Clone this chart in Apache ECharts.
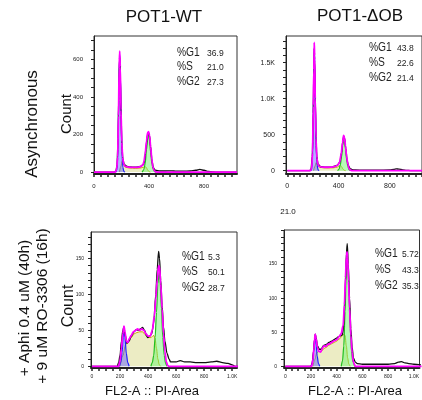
<!DOCTYPE html>
<html>
<head>
<meta charset="utf-8">
<script src="https://cdn.jsdelivr.net/npm/echarts@6/dist/echarts.min.js"></script>
<style>html,body{margin:0;padding:0;background:#fff;}#c{width:422px;height:400px;}</style>
</head>
<body>
<div id="c"></div>
<script>
// ---- titles / labels ----
const colTitles = ['POT1-WT', 'POT1-\u0394OB'];
const rowLabel1 = 'Asynchronous';
const rowLabel2a = '+ Aphi 0.4 uM (40h)';
const rowLabel2b = '+ 9 uM RO-3306 (16h)';
const statNames = ['%G1', '%S', '%G2'];
const statsWtAsync = ['36.9', '21.0', '27.3'];
const statsObAsync = ['43.8', '22.6', '21.4'];
const statsWtTreat = ['5.3', '50.1', '28.7'];
const statsObTreat = ['5.72', '43.3', '35.3'];

// ---- tick labels ----
const xLabelsTop = [0, 400, 800];
const xLabelsBottom = [0, 200, 400, 600, 800, 1000];
const yLabelsWtAsync = [0, 200, 400, 600];
const yLabelsObAsync = [0, 500, 1000, 1500];
const yLabelsTreat = [0, 50, 100, 150];

// ---- POT1-WT asynchronous ----
const wtAsyncRaw = [[0,0],[150,0],[160,8],[168,40],[175,180],[180,400],[185,600],[188,610],[192,500],[197,300],[203,140],[210,70],[220,40],[240,30],[260,28],[300,26],[340,30],[360,40],[368,62],[378,125],[388,195],[396,210],[404,192],[412,135],[422,58],[432,22],[445,10],[480,6],[520,6],[560,7],[600,5],[650,5],[700,6],[740,10],[770,15],[800,10],[830,4],[870,1],[900,0],[1040,0]];
const wtAsyncFit = [[0,0],[155,0],[165,15],[172,80],[178,300],[183,550],[187,644],[191,560],[196,330],[202,160],[208,80],[215,45],[225,32],[240,28],[260,26],[280,25],[300,25],[320,26],[340,30],[355,38],[363,55],[372,95],[382,165],[390,210],[397,215],[404,195],[412,135],[420,70],[428,28],[437,9],[447,2],[460,0],[1040,0]];
const wtAsyncG1 = [[160,0],[168,20],[174,120],[180,380],[185,600],[188,620],[192,520],[197,300],[203,110],[210,25],[218,3],[225,0]];
const wtAsyncS = [[185,0],[195,30],[205,60],[215,40],[230,25],[260,22],[300,20],[340,22],[360,26],[370,30],[380,25],[390,12],[400,3],[410,0]];
const wtAsyncG2 = [[350,0],[362,12],[372,45],[382,120],[391,185],[397,195],[404,165],[412,105],[421,45],[432,12],[442,2],[452,0]];

// ---- POT1-dOB asynchronous ----
const obAsyncRaw = [[0,0],[175,0],[185,20],[195,200],[202,800],[207,1400],[210,1700],[213,1550],[218,1000],[224,450],[230,190],[240,90],[260,55],[300,48],[350,50],[390,75],[410,120],[423,250],[433,410],[440,480],[447,450],[456,310],[466,150],[476,70],[490,30],[505,15],[530,10],[600,8],[700,8],[800,10],[830,18],[850,25],[870,22],[900,12],[930,5],[960,2],[1000,0],[1060,0]];
const obAsyncFit = [[0,0],[180,0],[190,30],[197,250],[203,900],[207,1400],[210,1780],[213,1600],[218,1000],[224,450],[230,180],[238,90],[250,60],[270,50],[290,48],[320,48],[350,50],[375,60],[395,80],[408,120],[420,230],[431,390],[439,490],[446,460],[454,340],[462,200],[472,90],[482,30],[492,8],[505,0],[1060,0]];
const obAsyncG1 = [[185,0],[193,40],[200,400],[205,1100],[210,1700],[214,1500],[219,900],[225,350],[232,80],[240,10],[248,0]];
const obAsyncS = [[205,0],[215,60],[225,110],[235,80],[250,50],[280,40],[320,38],[360,40],[390,50],[405,65],[415,75],[425,50],[435,20],[445,5],[455,0]];
const obAsyncG2 = [[392,0],[403,20],[413,80],[424,200],[432,350],[439,450],[446,420],[454,300],[462,160],[472,60],[482,15],[492,0]];

// ---- POT1-WT treated ----
const wtTreatRaw = [[0,0],[180,0],[190,5],[200,15],[210,35],[220,50],[228,55],[235,45],[250,32],[265,35],[280,42],[300,48],[316,51],[330,50],[345,52],[361,54],[375,50],[390,42],[398,40],[410,42],[425,45],[440,60],[455,100],[465,135],[475,160],[482,150],[490,120],[500,85],[510,55],[520,35],[535,18],[550,10],[560,6],[600,6],[630,8],[660,6],[700,6],[750,5],[800,5],[850,6],[890,7],[930,5],[970,4],[1000,2],[1020,0],[1040,0]];
const wtTreatFit = [[0,0],[190,0],[200,8],[210,25],[220,45],[228,56],[235,48],[245,35],[255,33],[265,38],[280,43],[295,48],[310,50],[325,52],[340,50],[355,52],[370,50],[385,45],[400,42],[415,42],[430,50],[445,70],[455,95],[465,120],[475,140],[482,138],[490,115],[500,80],[510,45],[520,20],[530,6],[540,1],[550,0],[1040,0]];
const wtTreatG1 = [[195,0],[205,5],[215,20],[222,40],[228,50],[235,40],[245,18],[255,5],[265,0]];
const wtTreatS = [[200,0],[220,15],[240,30],[260,35],[280,40],[300,45],[320,47],[340,48],[360,48],[380,44],[400,40],[420,40],[440,43],[450,38],[460,25],[470,10],[480,2],[490,0]];
const wtTreatG2 = [[420,0],[430,5],[440,15],[450,40],[460,75],[470,115],[478,130],[485,120],[495,80],[505,40],[515,15],[525,4],[535,0]];

// ---- POT1-dOB treated ----
const obTreatRaw = [[0,0],[200,0],[210,5],[220,22],[228,40],[233,47],[240,42],[250,30],[265,25],[280,25],[295,30],[303,31],[320,32],[340,35],[360,37],[380,39],[395,41],[420,44],[444,46],[455,60],[465,110],[475,165],[482,180],[490,150],[500,100],[510,55],[520,28],[530,12],[545,6],[560,4],[600,3],[650,3],[700,3],[750,3],[800,3],[850,4],[880,6],[904,7],[930,5],[960,4],[1000,3],[1060,2]];
const obTreatFit = [[0,0],[205,0],[215,10],[222,25],[228,40],[233,47],[240,40],[250,28],[260,22],[275,21],[290,27],[300,30],[315,29],[330,32],[345,33],[360,35],[375,37],[390,38],[405,40],[420,44],[435,48],[450,60],[460,90],[468,130],[475,160],[480,168],[485,160],[492,125],[500,85],[510,45],[520,20],[530,6],[545,0],[1060,0]];
const obTreatG1 = [[200,0],[210,5],[218,18],[225,35],[232,42],[240,32],[248,15],[258,4],[268,0]];
const obTreatS = [[215,0],[230,10],[245,20],[260,22],[280,22],[300,26],[320,28],[340,31],[360,33],[380,35],[400,37],[420,40],[440,44],[455,47],[465,45],[475,30],[485,12],[495,3],[505,0]];
const obTreatG2 = [[435,0],[445,8],[455,30],[465,80],[472,125],[480,158],[488,140],[496,100],[505,55],[515,22],[525,7],[540,0]];

// ---------- build ----------
function range(a, b, s) { const r = []; for (let v = a; v <= b + 1e-9; v += s) r.push(v); return r; }
const kfmt = v => v >= 1000 ? (v / 1000).toFixed(1) + 'K' : String(v);
const FONT = 'Liberation Sans';

const panels = [
  { left: 94, top: 36, width: 143, height: 138, xmin: 0, xmax: 1040, ymin: -10, ymax: 724,
    xl: xLabelsTop, yl: yLabelsWtAsync, xt: range(0, 1000, 50), yt: range(0, 700, 50), fs: 6, xm: 9, ym: 11,
    d: [wtAsyncRaw, wtAsyncFit, wtAsyncG1, wtAsyncS, wtAsyncG2] },
  { left: 286, top: 36, width: 145, height: 138, xmin: -10, xmax: 1050, ymin: -46, ymax: 1870,
    xl: xLabelsTop, yl: yLabelsObAsync, xt: range(0, 1050, 50), yt: range(0, 1850, 100), fs: 7, xm: 9, ym: 11,
    d: [obAsyncRaw, obAsyncFit, obAsyncG1, obAsyncS, obAsyncG2] },
  { left: 91, top: 232, width: 146, height: 136, xmin: -7, xmax: 1034, ymin: -2.4, ymax: 187,
    xl: xLabelsBottom, yl: yLabelsTreat, xt: range(0, 1000, 50), yt: range(0, 180, 10), fs: 5, xm: 6, ym: 7,
    d: [wtTreatRaw, wtTreatFit, wtTreatG1, wtTreatS, wtTreatG2] },
  { left: 284, top: 230, width: 145, height: 138, xmin: -10, xmax: 1044, ymin: -2.5, ymax: 200,
    xl: xLabelsBottom, yl: yLabelsTreat, xt: range(0, 1040, 50), yt: range(0, 200, 10), fs: 5, xm: 6, ym: 7,
    d: [obTreatRaw, obTreatFit, obTreatG1, obTreatS, obTreatG2] }
];

const grid = [], xAxis = [], yAxis = [], series = [];
panels.forEach((p, i) => {
  grid.push({ left: p.left, top: p.top, width: p.width, height: p.height, show: true,
    borderColor: '#333', borderWidth: 1, backgroundColor: '#fff', containLabel: false });
  xAxis.push({ type: 'value', gridIndex: i, min: p.xmin, max: p.xmax,
    axisLine: { onZero: false, lineStyle: { color: '#222', width: 2 } },
    axisTick: { customValues: p.xt, length: 3, lineStyle: { color: '#222', width: 1.5 } },
    axisLabel: { customValues: p.xl, formatter: kfmt, fontSize: p.fs, color: '#222', margin: p.xm, fontFamily: FONT },
    splitLine: { show: false } });
  yAxis.push({ type: 'value', gridIndex: i, min: p.ymin, max: p.ymax,
    axisLine: { onZero: false, lineStyle: { color: '#222', width: 1 } },
    axisTick: { customValues: p.yt, length: 3, lineStyle: { color: '#222', width: 1 } },
    axisLabel: { customValues: p.yl, formatter: kfmt, fontSize: p.fs, color: '#222', margin: p.ym, fontFamily: FONT },
    splitLine: { show: false } });
  const [raw, fit, g1, s, g2] = p.d;
  const base = { type: 'line', xAxisIndex: i, yAxisIndex: i, showSymbol: false, smooth: 0.3,
    smoothMonotone: 'x', silent: true, animation: false, clip: true };
  series.push(Object.assign({}, base, { data: s, lineStyle: { color: '#c8a200', width: 1 },
    areaStyle: { color: 'rgba(222,222,150,0.8)' }, z: 2 }));
  series.push(Object.assign({}, base, { data: g1, lineStyle: { color: '#2020ff', width: 1.2 },
    areaStyle: { color: 'rgba(100,100,255,0.7)' }, z: 3 }));
  series.push(Object.assign({}, base, { data: g2, lineStyle: { color: '#20c020', width: 1.2 },
    areaStyle: { color: 'rgba(110,245,110,0.7)' }, z: 3 }));
  series.push(Object.assign({}, base, { data: raw, lineStyle: { color: '#111', width: 1.3 }, z: 4 }));
  series.push(Object.assign({}, base, { data: fit, lineStyle: { color: '#ff00ff', width: 1.8 }, z: 5 }));
});

// text graphics
const g = [];
function txt(x, y, t, size, opts) {
  opts = opts || {};
  const el = { type: 'text', x: x, y: y, z: 100,
    style: Object.assign({ text: t, fontSize: size, fontFamily: FONT, fill: '#111',
      textAlign: 'center', textVerticalAlign: 'middle' }, opts.style || {}) };
  if (opts.rotation !== undefined) el.rotation = opts.rotation;
  if (opts.scaleX !== undefined) el.scaleX = opts.scaleX;
  g.push(el);
}
txt(164, 17, colTitles[0], 17);
txt(360, 16, colTitles[1], 17);
txt(32, 124, rowLabel1, 17, { rotation: Math.PI / 2 });
txt(25, 308, rowLabel2a, 15.5, { rotation: Math.PI / 2 });
txt(43, 306, rowLabel2b, 15.5, { rotation: Math.PI / 2 });
txt(67, 114, 'Count', 15, { rotation: Math.PI / 2 });
txt(69, 306, 'Count', 16, { rotation: Math.PI / 2 });
txt(152, 391, 'FL2-A :: PI-Area', 13);
txt(355, 391, 'FL2-A :: PI-Area', 13);
txt(288, 212, '21.0', 8);

const statPos = [
  { nx: 177, vx: 207, ys: [53, 67, 82], vals: statsWtAsync },
  { nx: 369, vx: 397, ys: [48, 63, 78], vals: statsObAsync },
  { nx: 182, vx: 208, ys: [257, 272, 288], vals: statsWtTreat },
  { nx: 375, vx: 402, ys: [254, 270, 286], vals: statsObTreat }
];
statPos.forEach(sp => {
  sp.ys.forEach((y, k) => {
    txt(sp.nx, y, statNames[k], 12.5, { style: { textAlign: 'left', fill: '#222' }, scaleX: 0.82 });
    txt(sp.vx, y, sp.vals[k], 9.5, { style: { textAlign: 'left', fill: '#222' }, scaleX: 0.9 });
  });
});

const chart = echarts.init(document.getElementById('c'), null, { renderer: 'canvas' });
chart.setOption({ animation: false, backgroundColor: '#fff', grid, xAxis, yAxis, series, graphic: g });
</script>
</body>
</html>
